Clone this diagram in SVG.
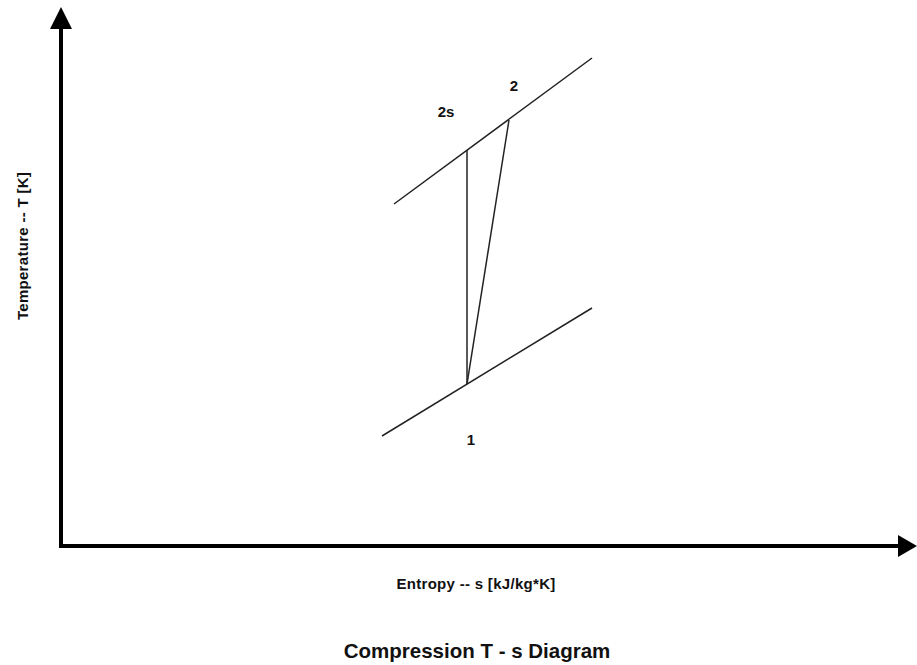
<svg xmlns="http://www.w3.org/2000/svg" width="917" height="665" viewBox="0 0 917 665">
<style>
.axis{stroke:#000;stroke-width:4;fill:none}
.ln{stroke:#222;stroke-width:1.5;fill:none}
.lbl{font-family:"Liberation Sans",Arial,sans-serif;font-weight:bold;fill:#111}
</style>
<rect width="917" height="665" fill="#fff"/>
<g id="connectors">
<line class="axis" x1="61" y1="546" x2="61" y2="26"/>
<polygon points="61,7 50,29 72,29" fill="#000"/>
<line class="axis" x1="59" y1="546" x2="900" y2="546"/>
<polygon points="917,546 898,535 898,557" fill="#000"/>
<line class="ln" x1="394" y1="204" x2="592" y2="58"/>
<line class="ln" x1="382" y1="436" x2="592" y2="308"/>
<line class="ln" x1="467" y1="384" x2="467" y2="150"/>
<line class="ln" x1="467" y1="384" x2="509" y2="120"/>
</g>
<g id="label-2s"><text class="lbl" x="446" y="117" font-size="15" text-anchor="middle">2s</text></g>
<g id="label-2"><text class="lbl" x="514" y="91" font-size="15" text-anchor="middle">2</text></g>
<g id="label-1"><text class="lbl" x="471" y="445" font-size="15" text-anchor="middle">1</text></g>
<g id="y-label"><text class="lbl" transform="translate(28,246) rotate(-90)" font-size="15" letter-spacing="0.3" text-anchor="middle">Temperature -- T [K]</text></g>
<g id="x-label"><text class="lbl" x="476" y="589" font-size="15" letter-spacing="0.3" text-anchor="middle">Entropy -- s [kJ/kg*K]</text></g>
<g id="title"><text class="lbl" x="477" y="658" font-size="20.5" text-anchor="middle">Compression T - s Diagram</text></g>
</svg>
